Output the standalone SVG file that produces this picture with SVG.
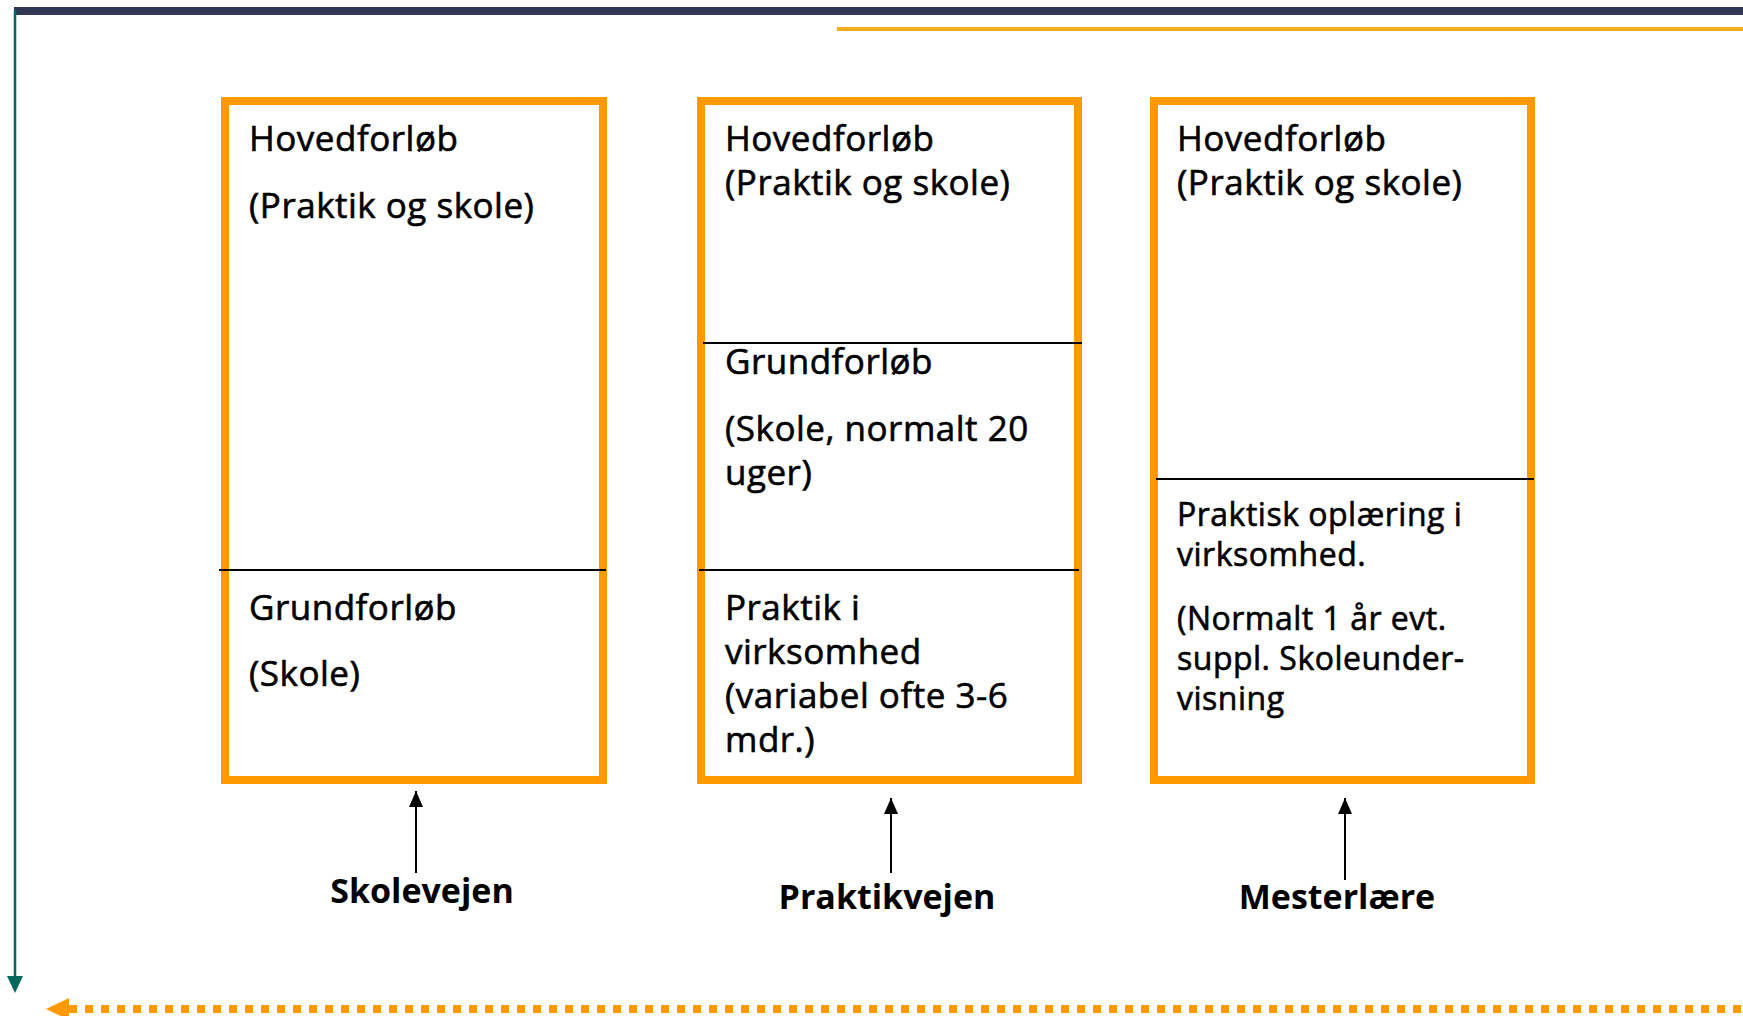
<svg xmlns="http://www.w3.org/2000/svg" width="1743" height="1016" viewBox="0 0 1743 1016">
<defs>
<style>
.box{fill:#fff;stroke:#FF9900;stroke-width:8}
.div{stroke:#000;stroke-width:2}
.t{font-family:"Open Sans","Noto Sans",sans-serif;font-size:35px;font-weight:500;letter-spacing:0.5px;fill:#000;stroke:#000;stroke-width:0.6px}
.s{font-family:"Open Sans","Noto Sans",sans-serif;font-size:32px;font-weight:500;letter-spacing:0.5px;fill:#000;stroke:#000;stroke-width:0.6px}
.lbl{font-family:"Open Sans","Noto Sans",sans-serif;font-size:34px;font-weight:bold;fill:#000;text-anchor:middle}
</style>
</defs>
<rect width="1743" height="1016" fill="#fff"/>
<g id="frame">
<rect x="14" y="7" width="1729" height="8" fill="#2F3752"/>
<rect x="837" y="27" width="906" height="4" fill="#F2B01E"/>
</g>
<g id="connectors">
<line x1="15" y1="10" x2="15" y2="979" stroke="#00695C" stroke-width="2.5"/>
<path d="M7,976 L23,976 L15,993 z" fill="#00695C"/>
<line x1="69" y1="1009" x2="1743" y2="1009" stroke="#FF9900" stroke-width="8" stroke-dasharray="8 8"/>
<path d="M46,1009 L69,998 L69,1020 z" fill="#FF9900"/>
<line x1="416" y1="873" x2="416" y2="791" stroke="#000" stroke-width="2"/>
<path d="M416,791 L409,807 L423,807 z" fill="#000"/>
<line x1="891" y1="873" x2="891" y2="798" stroke="#000" stroke-width="2"/>
<path d="M891,798 L884,814 L898,814 z" fill="#000"/>
<line x1="1345" y1="880" x2="1345" y2="798" stroke="#000" stroke-width="2"/>
<path d="M1345,798 L1338,814 L1352,814 z" fill="#000"/>
</g>
<g id="skolevejen">
<rect class="box" x="225" y="101" width="378" height="679"/>
<line class="div" x1="219" y1="570" x2="606" y2="570"/>
<text class="t" x="249" y="151">Hovedforløb</text>
<text class="t" x="249" y="218">(Praktik og skole)</text>
<text class="t" x="249" y="620">Grundforløb</text>
<text class="t" x="249" y="686">(Skole)</text>
<text class="lbl" x="422" y="903">Skolevejen</text>
</g>
<g id="praktikvejen">
<rect class="box" x="701" y="101" width="377" height="679"/>
<line class="div" x1="703" y1="343" x2="1082" y2="343"/>
<line class="div" x1="699" y1="570" x2="1079" y2="570"/>
<text class="t" x="725" y="151">Hovedforløb</text>
<text class="t" x="725" y="195">(Praktik og skole)</text>
<text class="t" x="725" y="374">Grundforløb</text>
<text class="t" x="725" y="441">(Skole, normalt 20</text>
<text class="t" x="725" y="485">uger)</text>
<text class="t" x="725" y="620">Praktik i</text>
<text class="t" x="725" y="664">virksomhed</text>
<text class="t" x="725" y="708">(variabel ofte 3-6</text>
<text class="t" x="725" y="752">mdr.)</text>
<text class="lbl" x="887" y="909">Praktikvejen</text>
</g>
<g id="mesterlaere">
<rect class="box" x="1154" y="101" width="377" height="679"/>
<line class="div" x1="1156" y1="479" x2="1534" y2="479"/>
<text class="t" x="1177" y="151">Hovedforløb</text>
<text class="t" x="1177" y="195">(Praktik og skole)</text>
<text class="s" x="1177" y="526">Praktisk oplæring i</text>
<text class="s" x="1177" y="566">virksomhed.</text>
<text class="s" x="1177" y="630">(Normalt 1 år evt.</text>
<text class="s" x="1177" y="670">suppl. Skoleunder-</text>
<text class="s" x="1177" y="710">visning</text>
<text class="lbl" x="1337" y="909">Mesterlære</text>
</g>
</svg>
